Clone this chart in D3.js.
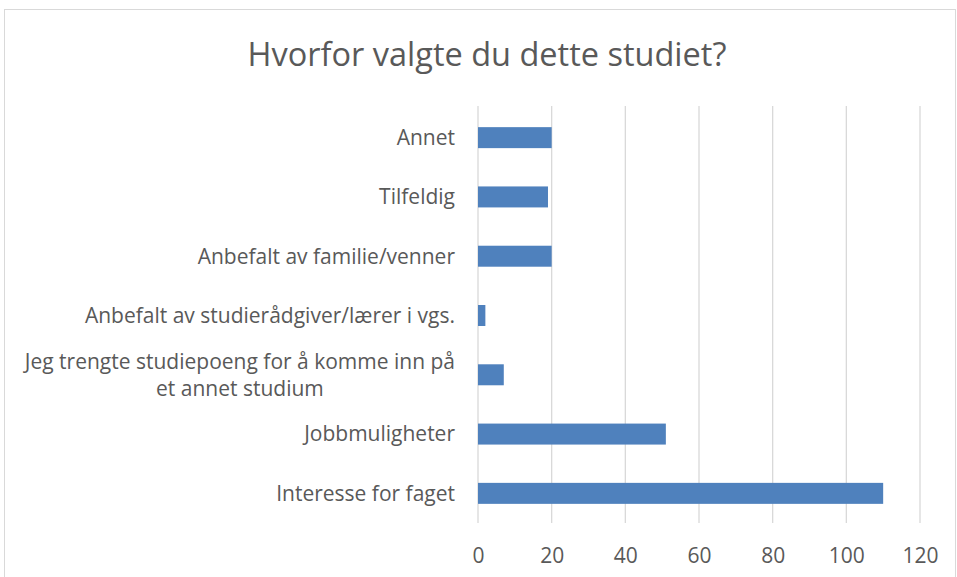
<!DOCTYPE html>
<html>
<head>
<meta charset="utf-8">
<script src="https://d3js.org/d3.v7.min.js"></script>
<style>
  body { margin: 0; background: #fff; }
  svg { display: block; font-family: "Open Sans", sans-serif; }
</style>
</head>
<body>
<svg width="957" height="577"></svg>
<script>
// data, top to bottom as in the picture
var categories = [
  "Annet",
  "Tilfeldig",
  "Anbefalt av familie/venner",
  "Anbefalt av studierådgiver/lærer i vgs.",
  "Jeg trengte studiepoeng for å komme inn på|et annet studium",
  "Jobbmuligheter",
  "Interesse for faget"
];
var counts = [20, 19, 20, 2, 7, 51, 110];
var ticks = [0, 20, 40, 60, 80, 100, 120];

var svg = d3.select("svg");

// chart border
svg.append("rect")
  .attr("x", 4.5).attr("y", 9.5)
  .attr("width", 951).attr("height", 620)
  .attr("fill", "none")
  .attr("stroke", "#d9d9d9");

let xScale = d3.scaleLinear().domain([0, 120]).range([478, 920]);
let yScale = d3.scaleBand()
  .domain(categories)
  .range([108, 523])
  .paddingInner(0.646)
  .paddingOuter(0.323);

// gridlines
svg.append("g").selectAll("line")
  .data(ticks)
  .enter().append("line")
  .attr("x1", d => xScale(d)).attr("x2", d => xScale(d))
  .attr("y1", 106).attr("y2", 523)
  .attr("stroke", "#d9d9d9")
  .attr("stroke-width", 1.3);

// bars
svg.append("g").selectAll("rect")
  .data(categories)
  .enter().append("rect")
  .attr("x", xScale(0))
  .attr("y", d => yScale(d))
  .attr("height", yScale.bandwidth())
  .attr("width", (d, i) => xScale(counts[i]) - xScale(0))
  .attr("fill", "#4f81bd");

// x axis labels
let xAxis = d3.axisBottom(xScale).tickValues(ticks).tickSize(0).tickPadding(0);
let xg = svg.append("g").attr("transform", "translate(0,548)").call(xAxis);
xg.select(".domain").remove();
xg.selectAll("text")
  .attr("font-family", "Open Sans, sans-serif")
  .attr("font-size", 21)
  .attr("fill", "#595959");

// category labels
let labels = svg.append("g");
categories.forEach(function(c) {
  let lines = c.split("|");
  let cy = yScale(c) + yScale.bandwidth() / 2;
  let t = labels.append("text")
    .attr("font-size", 21)
    .attr("fill", "#595959");
  if (lines.length === 1) {
    t.attr("x", 455).attr("y", cy).attr("dy", "0.35em")
      .attr("text-anchor", "end").text(c);
  } else {
    t.attr("text-anchor", "middle");
    let first = t.append("tspan").attr("x", 0).attr("y", cy - 13.5).attr("dy", "0.35em").text(lines[0]);
    let w = first.node().getComputedTextLength();
    let mid = 455 - w / 2;
    first.attr("x", mid);
    t.append("tspan").attr("x", mid).attr("y", cy + 13.5).attr("dy", "0.35em").text(lines[1]);
  }
});

// title
svg.append("text")
  .attr("x", 487).attr("y", 55)
  .attr("dy", "0.35em")
  .attr("text-anchor", "middle")
  .attr("font-size", 32.5)
  .attr("fill", "#595959")
  .text("Hvorfor valgte du dette studiet?");
</script>
</body>
</html>
